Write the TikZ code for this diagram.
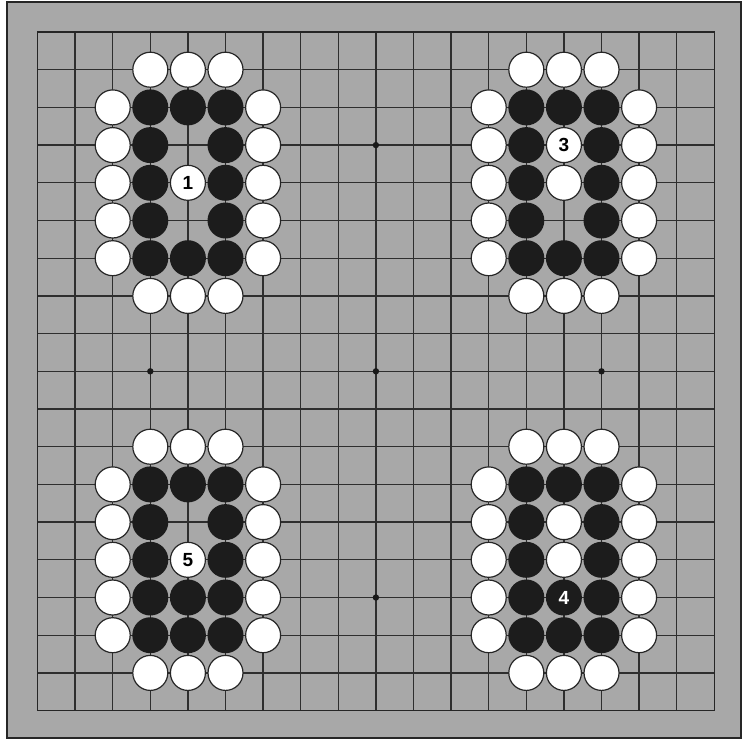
\documentclass[tikz,border=0pt]{standalone}
\usepackage{fontspec}
\setmainfont{Liberation Sans}
\definecolor{boardgray}{gray}{0.66}
\definecolor{stoneblack}{gray}{0.11}
\tikzset{
  wstone/.style={draw=black!85, line width=1.2pt, fill=white},
  bstone/.style={fill=stoneblack},
  wlabel/.style={circle, draw=black!85, line width=1.2pt, fill=white, minimum size=35pt, inner sep=0pt, font=\bfseries\fontsize{19}{19}\selectfont},
  blabel/.style={circle, fill=stoneblack, text=white, minimum size=36pt, inner sep=0pt, font=\bfseries\fontsize{19}{19}\selectfont},
}
\begin{document}
\begin{tikzpicture}[x=37.6pt, y=-37.7pt]
  \useasboundingbox (0.0027,0.1512) rectangle (19.896,19.78);
  \draw[line width=1.8pt, draw=black!85, fill=boardgray] (0.189,0.204) rectangle (19.71,19.727);
  \foreach \i in {2,...,18} {
    \draw[line width=1.3pt, black!82] (1,\i) -- (19,\i);
    \draw[line width=1.3pt, black!82] (\i,1) -- (\i,19);
  }
  \draw[line width=1.6pt, black!85] (1,1) rectangle (19,19);
  \foreach \x in {4,10,16}
    \foreach \y in {4,10,16}
      \fill[black!90] (\x,\y) circle (3.2pt);
  \foreach \gx/\gy in {0/0,10/0,0/10,10/10} {
    \begin{scope}[shift={(\gx,\gy)}]
    \foreach \c in {4,5,6} {
      \draw[wstone] (\c,2) circle (17.5pt);
      \draw[wstone] (\c,8) circle (17.5pt);
    }
    \foreach \r in {3,...,7} {
      \draw[wstone] (3,\r) circle (17.5pt);
      \draw[wstone] (7,\r) circle (17.5pt);
      \fill[bstone] (4,\r) circle (18pt);
      \fill[bstone] (6,\r) circle (18pt);
    }
    \fill[bstone] (5,3) circle (18pt);
    \fill[bstone] (5,7) circle (18pt);
    \end{scope}
  }
  \node[wlabel] (move1) at (5,5) {1};
  \node[wlabel] (move3) at (15,4) {3};
  \draw[wstone] (15,5) circle (17.5pt);
  \fill[bstone] (5,16) circle (18pt);
  \node[wlabel] (move5) at (5,15) {5};
  \draw[wstone] (15,14) circle (17.5pt);
  \draw[wstone] (15,15) circle (17.5pt);
  \node[blabel] (move4) at (15,16) {4};
\end{tikzpicture}
\end{document}
